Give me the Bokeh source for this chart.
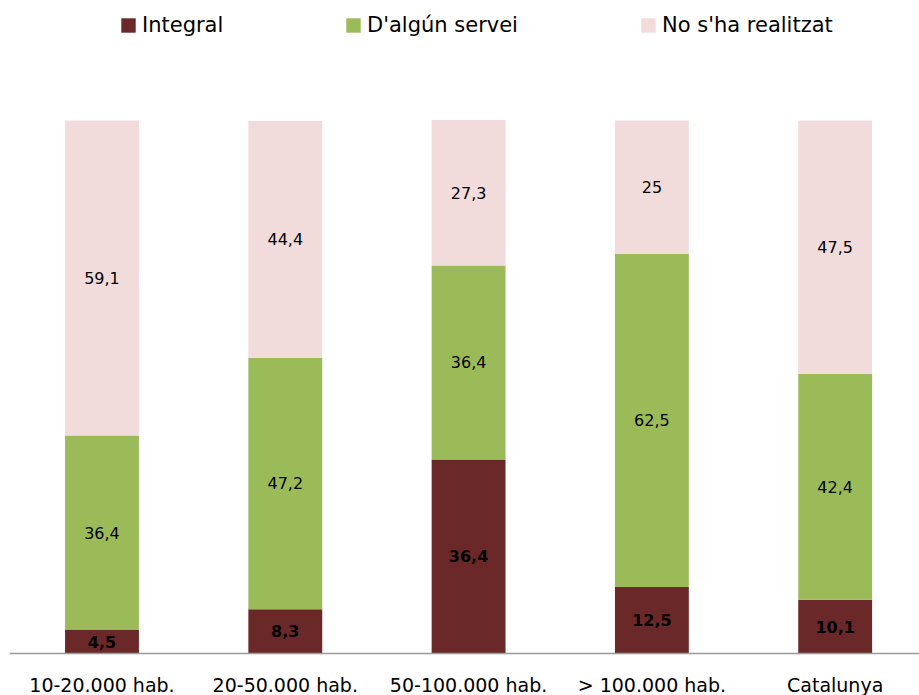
from bokeh.plotting import figure
from bokeh.models import ColumnDataSource, FixedTicker, Legend, LegendItem, Range1d
from bokeh.core.properties import value
from bokeh.embed import file_html
from bokeh.resources import INLINE

categories = ["10-20.000 hab.", "20-50.000 hab.", "50-100.000 hab.", "> 100.000 hab.", "Catalunya"]
integral = [4.5, 8.3, 36.4, 12.5, 10.1]
algun_servei = [36.4, 47.2, 36.4, 62.5, 42.4]
no_realitzat = [59.1, 44.4, 27.3, 25.0, 47.5]
series_names = ["Integral", "D'algún servei", "No s'ha realitzat"]
colors = ["#6B2828", "#9BBB59", "#F2DCDB"]

FONT = "DejaVu Sans"

def fmt(v):
    s = ("%.1f" % v).replace(".", ",")
    if s.endswith(",0"):
        s = s[:-2]
    return s

xs = list(range(len(categories)))
bottoms1 = [0] * len(xs)
tops1 = integral
tops2 = [a + b for a, b in zip(integral, algun_servei)]
tops3 = [a + b + c for a, b, c in zip(integral, algun_servei, no_realitzat)]

src = ColumnDataSource(dict(
    x=xs,
    b1=bottoms1, t1=tops1,
    b2=tops1, t2=tops2,
    b3=tops2, t3=tops3,
    m1=[(a + b) / 2 for a, b in zip(bottoms1, tops1)],
    m2=[(a + b) / 2 for a, b in zip(tops1, tops2)],
    m3=[(a + b) / 2 for a, b in zip(tops2, tops3)],
    l1=[fmt(v) for v in integral],
    l2=[fmt(v) for v in algun_servei],
    l3=[fmt(v) for v in no_realitzat],
))

W, H = 919, 695
px_per_unit = 533.0 / 100.0
y_end = 653.0 / px_per_unit
y_start = -(H - 653.0) / px_per_unit

p = figure(width=W, height=H, output_backend="svg", toolbar_location=None,
           x_range=Range1d(-0.5046, 4.46), y_range=Range1d(y_start, y_end),
           min_border_left=9, min_border_right=0, min_border_top=0, min_border_bottom=0)
p.outline_line_color = None
p.grid.grid_line_color = None
p.yaxis.visible = False
p.background_fill_color = "white"

w = 0.403
r1 = p.vbar(x="x", bottom="b1", top="t1", width=w, source=src, fill_color=colors[0], line_color=None)
r2 = p.vbar(x="x", bottom="b2", top="t2", width=w, source=src, fill_color=colors[1], line_color=None)
r3 = p.vbar(x="x", bottom="b3", top="t3", width=w, source=src, fill_color=colors[2], line_color=None)

p.text(x="x", y="m1", text="l1", source=src, text_align="center", text_baseline="middle",
       text_font=value(FONT), text_font_size="16px", text_font_style="bold", text_color="#000000")
p.text(x="x", y="m2", text="l2", source=src, text_align="center", text_baseline="middle",
       text_font=value(FONT), text_font_size="16px", text_color="#000000")
p.text(x="x", y="m3", text="l3", source=src, text_align="center", text_baseline="middle",
       text_font=value(FONT), text_font_size="16px", text_color="#000000")

ax = p.xaxis[0]
ax.fixed_location = 0
ax.ticker = FixedTicker(ticks=xs)
ax.major_label_overrides = {i: c for i, c in enumerate(categories)}
ax.major_tick_line_color = None
ax.minor_tick_line_color = None
ax.axis_line_color = "#9A9A9A"
ax.axis_line_width = 1.5
ax.major_label_text_font = FONT
ax.major_label_text_font_size = "19px"
ax.major_label_text_color = "#000000"
ax.major_label_standoff = 14

legend_x = [110, 335, 630]
for r, name, lx in zip([r1, r2, r3], series_names, legend_x):
    lg = Legend(items=[LegendItem(label=name, renderers=[r])], location=(lx, 658),
                orientation="horizontal", padding=0, margin=0, border_line_color=None,
                background_fill_alpha=0, glyph_width=18, glyph_height=18, label_standoff=5,
                label_text_font=FONT, label_text_font_size="21px", label_text_color="#000000")
    p.add_layout(lg)

open("out.html", "w").write(file_html(p, INLINE))
